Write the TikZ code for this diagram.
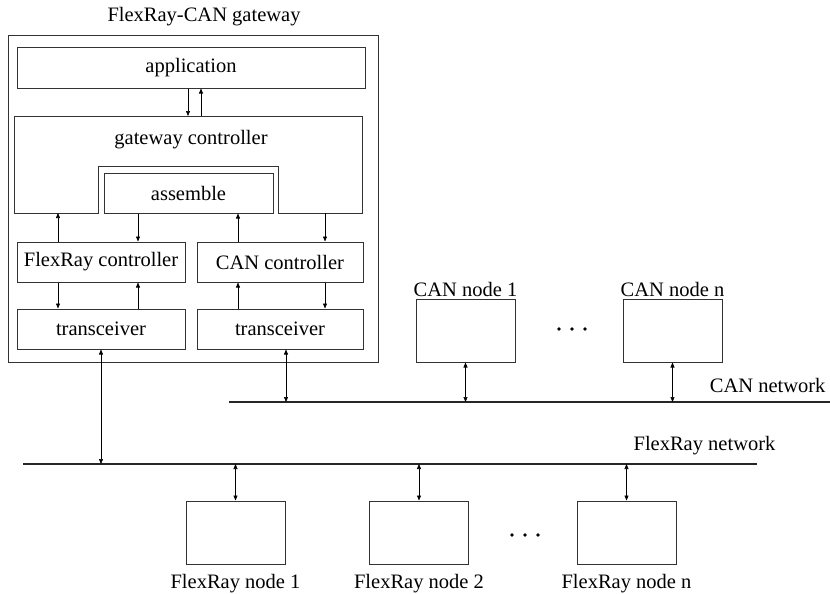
\documentclass[tikz,border=0pt]{standalone}
\usepackage{fontspec}
\setmainfont{Liberation Serif}
\usepackage{tikz}
\usetikzlibrary{arrows.meta,positioning,calc}

\begin{document}
\begin{tikzpicture}[
      x=1pt, y=-1pt,
      every node/.style={font=\fontsize{20.5}{24}\selectfont},
      box/.style={draw=black!80, line width=1pt, inner sep=0pt, align=center},
      unit/.style={box, minimum width=99pt, minimum height=63pt},
      arr/.style={-{Triangle[length=5pt, width=4pt]}, line width=0.6pt},
      darr/.style={{Triangle[length=5pt, width=4pt]}-{Triangle[length=5pt, width=4pt]}, line width=0.6pt},
      bus/.style={line width=1.8pt, black!85}
  ]
    \useasboundingbox (0,0) rectangle (830,594);

    % --- Gateway ---
    \node[box, minimum width=370pt, minimum height=326pt] (gw) at (193,199) {};
    \node (gwtitle) at (204,17) {FlexRay-CAN gateway};

    \node[box, minimum width=348pt, minimum height=40pt] (app) at (191,68) {application};

    % gateway controller with notch for assemble
    \draw[draw=black!80, line width=1pt]
          (14,116) -- (362,116) -- (362,213) -- (278,213) -- (278,166)
          -- (98,166) -- (98,213) -- (14,213) -- cycle;
    \node (gwc) at (191,140) {gateway controller};
    \coordinate (gct) at (191,116);
    \coordinate (gcA) at (58,213);
    \coordinate (gcB) at (325,213);

    \node[box, minimum width=169pt, minimum height=40pt] (asm) at (188.5,193) {assemble};

    \node[box, minimum width=168pt, minimum height=40pt] (frc) at (101,262) {FlexRay controller};
    \node[box, minimum width=166pt, minimum height=40pt] (canc) at (280,262) {CAN controller};
    \node[box, minimum width=168pt, minimum height=40pt] (frt) at (101,329) {transceiver};
    \node[box, minimum width=166pt, minimum height=40pt] (cant) at (280,329) {transceiver};

    % inner arrows
    \draw[arr] ([xshift=-3pt]app.south) -- ([xshift=-3pt]gct);
    \draw[arr] ([xshift=10pt]gct) -- ([xshift=10pt]app.south);

    \draw[arr] (frc.north -| gcA) -- (gcA);
    \draw[arr] ([xshift=-50.5pt]asm.south) -- ([xshift=37pt]frc.north);
    \draw[arr] ([xshift=-42pt]canc.north) -- ([xshift=49.5pt]asm.south);
    \draw[arr] (gcB) -- (canc.north -| gcB);

    \draw[arr] ([xshift=-43pt]frc.south) -- ([xshift=-43pt]frt.north);
    \draw[arr] ([xshift=37pt]frt.north) -- ([xshift=37pt]frc.south);
    \draw[arr] ([xshift=-42pt]cant.north) -- ([xshift=-42pt]canc.south);
    \draw[arr] ([xshift=45pt]canc.south) -- ([xshift=45pt]cant.north);

    % --- CAN network ---
    \coordinate (canbus) at (229,402);
    \coordinate (canbusend) at (830,402);
    \draw[bus] (canbus) -- (canbusend);
    \node[anchor=east] (canlbl) at (829,385) {CAN network};

    \node[unit, label={[inner sep=2pt]above:CAN node 1}] (cann1) at (465.5,330.5) {};
    \node[unit, label={[inner sep=2pt]above:CAN node n}] (cannn) at (672.5,330.5) {};
    \foreach \x in {559,572,585} {
      \fill (\x,329) circle (1.8pt);
    }

    \path ([xshift=6pt]cant.south) coordinate (cantb);
    \draw[darr] (cantb) -- (cantb |- canbus);
    \draw[darr] (cann1.south) -- (cann1.south |- canbus);
    \draw[darr] (cannn.south) -- (cannn.south |- canbus);

    % --- FlexRay network ---
    \coordinate (frbus) at (23,464);
    \coordinate (frbusend) at (757,464);
    \draw[bus] (frbus) -- (frbusend);
    \node (frlbl) at (704.5,446) {FlexRay network};

    \node[unit, label={[inner sep=10pt]below:FlexRay node 1}] (frn1) at (235.5,532.5) {};
    \node[unit, label={[inner sep=10pt]below:FlexRay node 2}] (frn2) at (419,532.5) {};
    \node[unit, label={[inner sep=10pt]below:FlexRay node n}] (frnn) at (626.5,532.5) {};
    \foreach \x in {512,525,538} {
      \fill (\x,535) circle (1.8pt);
    }

    \draw[darr] (frt.south) -- (frt.south |- frbus);
    \draw[darr] (frn1.north |- frbus) -- (frn1.north);
    \draw[darr] (frn2.north |- frbus) -- (frn2.north);
    \draw[darr] (frnn.north |- frbus) -- (frnn.north);

  \end{tikzpicture}
\end{document}
